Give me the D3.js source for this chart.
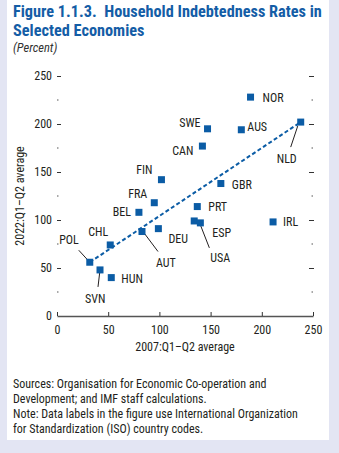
<!DOCTYPE html>
<html>
<head>
<meta charset="utf-8">
<script src="https://cdn.jsdelivr.net/npm/d3@7"></script>
<style>
  body { margin: 0; background: #e3e5f3; }
  svg text { font-family: "Liberation Sans Narrow", "Roboto Condensed", "Arial Narrow", sans-serif; fill: #231f20; }
</style>
</head>
<body>
<div id="chart"></div>
<script>
// Data
var countries = ['NOR','SWE','AUS','NLD','CAN','GBR','PRT','ESP','USA','IRL',
                 'FIN','FRA','BEL','DEU','AUT','CHL','POL','SVN','HUN'];
var debt2007 = [189, 147, 180, 238, 142, 160, 137, 134, 140, 211,
                102, 95, 80, 99, 83, 52, 32, 42, 53];
var debt2022 = [228, 195, 194, 202, 177, 138, 114, 99, 97, 98,
                142, 118, 108, 91, 88, 74, 56, 48, 40];
var trendX = [32, 238];
var trendY = [56, 202];
var yTicks = [0, 50, 100, 150, 200, 250];
var xTicks = [0, 50, 100, 150, 200, 250];
var minorTicks = [25, 75, 125, 175, 225];

// label placement (px offsets from the marker), 4th item = leader line
var labelPos = {
  NOR: [12, 5, 'start'], SWE: [-7, -2, 'end'], AUS: [6, 1, 'start'],
  NLD: [-24, 41, 'start', [-3, 4, -10, 25]], CAN: [-9, 9, 'end'],
  GBR: [11, 5, 'start'], PRT: [11, 4, 'start'], ESP: [18, 16, 'start'],
  USA: [10, 39, 'start', [0, 2, 9, 25]], IRL: [10, 4, 'start'],
  FIN: [-9, -6, 'end'], FRA: [-7, -5, 'end'], BEL: [-8, 4, 'end'],
  DEU: [10, 14, 'start'], AUT: [14, 35, 'start', [1, 0, 16, 20]],
  CHL: [-2, -9, 'end'], POL: [-11, -18, 'end', [-11, -12, 0, 0]],
  SVN: [-15, 33, 'start', [0, 0, -2, 17]], HUN: [10, 5, 'start']
};

var W = 339, H = 453;
var blue = '#0b5ca5';

var svg = d3.select('#chart').append('svg')
    .attr('width', W).attr('height', H);

svg.append('rect').attr('x', 0).attr('y', 0).attr('width', W).attr('height', H).attr('fill', '#e3e5f3');
svg.append('rect').attr('x', 7).attr('y', 0).attr('width', 322).attr('height', 440).attr('fill', '#fff');

// Title
svg.append('text').attr('x', 13).attr('y', 17)
   .style('font-size', '16.3px').style('font-weight', 'bold').style('fill', '#145da6')
   .attr('xml:space', 'preserve')
   .text('Figure 1.1.3.  Household Indebtedness Rates in');
svg.append('text').attr('x', 13).attr('y', 36)
   .style('font-size', '16.3px').style('font-weight', 'bold').style('fill', '#145da6')
   .text('Selected Economies');
svg.append('text').attr('x', 13).attr('y', 52)
   .style('font-size', '12.5px').style('font-style', 'italic').style('fill', '#333')
   .text('(Percent)');

var x = d3.scaleLinear().domain([0, 250]).range([57, 313]);
var y = d3.scaleLinear().domain([0, 250]).range([316, 76]);

// x axis (ticks point up)
var xAxis = svg.append('g').attr('transform', 'translate(0,316)')
   .call(d3.axisBottom(x).tickValues(xTicks).tickSize(-4).tickSizeOuter(0).tickPadding(9));
xAxis.select('.domain').attr('stroke', '#555').attr('stroke-width', 1.3);
xAxis.selectAll('.tick line').attr('stroke', '#333');
xAxis.selectAll('.tick text').style('font-size', '12px').style('font-family', null);

// left axis
var yAxis = svg.append('g').attr('transform', 'translate(61,0)')
   .call(d3.axisLeft(y).tickValues(yTicks).tickSize(4).tickPadding(5));
yAxis.select('.domain').remove();
yAxis.selectAll('.tick line').attr('stroke', '#333');
yAxis.selectAll('.tick text').style('font-size', '12px').style('font-family', null);
yAxis.select('.tick line').remove(); // no tick at 0

// right axis
var rAxis = svg.append('g').attr('transform', 'translate(309,0)')
   .call(d3.axisRight(y).tickValues(yTicks.slice(1)).tickSize(5).tickFormat(''));
rAxis.select('.domain').remove();
rAxis.selectAll('.tick line').attr('stroke', '#333');

// minor ticks (dots)
svg.selectAll('.minorL').data(minorTicks).enter().append('line')
   .attr('x1', 57).attr('x2', 58.5)
   .attr('y1', function(d) { return y(d); }).attr('y2', function(d) { return y(d); })
   .attr('stroke', '#555');
svg.selectAll('.minorR').data(minorTicks).enter().append('line')
   .attr('x1', 311.5).attr('x2', 313)
   .attr('y1', function(d) { return y(d); }).attr('y2', function(d) { return y(d); })
   .attr('stroke', '#555');

// axis titles
svg.append('text').attr('x', 185).attr('y', 351).attr('text-anchor', 'middle')
   .style('font-size', '12px').text('2007:Q1\u2013Q2 average');
svg.append('text').attr('transform', 'translate(24,196) rotate(-90)').attr('text-anchor', 'middle')
   .style('font-size', '12px').text('2022:Q1\u2013Q2 average');

// trend line
svg.append('line')
   .attr('x1', x(trendX[0])).attr('y1', y(trendY[0]))
   .attr('x2', x(trendX[1])).attr('y2', y(trendY[1]))
   .attr('stroke', blue).attr('stroke-width', 2).attr('stroke-dasharray', '4,2.5');

// leaders
countries.forEach(function(c, i) {
  var p = labelPos[c];
  if (p[3]) {
    var px = x(debt2007[i]), py = y(debt2022[i]);
    svg.append('line')
       .attr('x1', px + p[3][0]).attr('y1', py + p[3][1])
       .attr('x2', px + p[3][2]).attr('y2', py + p[3][3])
       .attr('stroke', '#231f20').attr('stroke-width', 1);
  }
});

// markers
svg.selectAll('.pt').data(countries).enter().append('rect')
   .attr('class', 'pt')
   .attr('x', function(d, i) { return x(debt2007[i]) - 3.5; })
   .attr('y', function(d, i) { return y(debt2022[i]) - 3.5; })
   .attr('width', 7).attr('height', 7)
   .attr('fill', blue);

// labels
svg.selectAll('.lbl').data(countries).enter().append('text')
   .attr('x', function(d, i) { return x(debt2007[i]) + labelPos[d][0]; })
   .attr('y', function(d, i) { return y(debt2022[i]) + labelPos[d][1]; })
   .attr('text-anchor', function(d) { return labelPos[d][2]; })
   .style('font-size', '12px')
   .text(function(d) { return d; });

// notes
var notes = ['Sources: Organisation for Economic Co-operation and',
             'Development; and IMF staff calculations.',
             'Note: Data labels in the figure use International Organization',
             'for Standardization (ISO) country codes.'];
svg.selectAll('.note').data(notes).enter().append('text')
   .attr('x', 13).attr('y', function(d, i) { return 388 + i * 15; })
   .style('font-size', '12px')
   .text(function(d) { return d; });
</script>
</body>
</html>
